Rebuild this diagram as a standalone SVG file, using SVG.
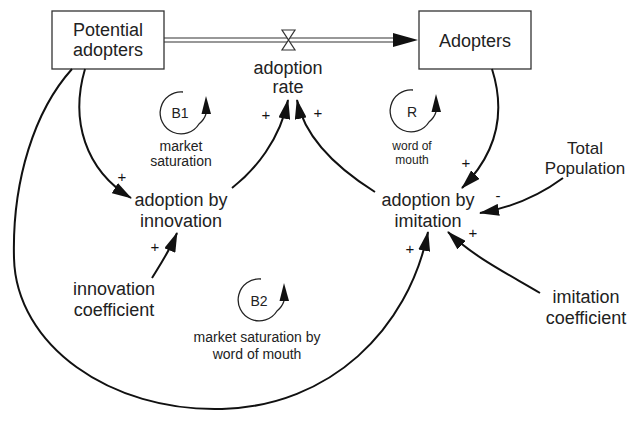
<svg xmlns="http://www.w3.org/2000/svg" width="631" height="421" viewBox="0 0 631 421">
  <style>
    .box { fill: #ffffff; stroke: #333333; stroke-width: 1.3; }
    .lbl { font-family: "Liberation Sans", Arial, sans-serif; font-size: 18px; fill: #222222; text-anchor: middle; }
    .small { font-family: "Liberation Sans", Arial, sans-serif; font-size: 14px; fill: #222222; text-anchor: middle; }
    .pol { font-family: "Liberation Sans", Arial, sans-serif; font-size: 15px; fill: #111111; text-anchor: middle; }
    .link { fill: none; stroke: #111111; stroke-width: 2; marker-end: url(#head); }
    .pipe { fill: none; stroke: #333333; stroke-width: 1.2; }
    .loop { fill: none; stroke: #222222; stroke-width: 1.3; }
  </style>
  <defs>
    <marker id="head" markerUnits="userSpaceOnUse" viewBox="0 0 20 12" refX="19" refY="6" markerWidth="20" markerHeight="12" orient="auto">
      <path d="M0,0 L20,6 L0,12 Z" fill="#111111"/>
    </marker>
    <!-- loop symbol: open circle with an upward arrow on its right side -->
    <g id="loopmark">
      <path class="loop" d="M2,-21 A21,21 0 1 0 18,11 Q23,7 25,1"/>
      <path d="M25,-17 L20.5,1 L30,1 Z" fill="#111111"/>
    </g>
  </defs>

  <!-- stocks -->
  <g id="potential-adopters">
    <rect class="box" x="52" y="11" width="112" height="58"/>
    <text class="lbl" x="108" y="36">Potential</text>
    <text class="lbl" x="108" y="56">adopters</text>
  </g>
  <g id="adopters">
    <rect class="box" x="419" y="11" width="112" height="58"/>
    <text class="lbl" x="475" y="47">Adopters</text>
  </g>

  <!-- flow with valve -->
  <g id="adoption-rate">
    <line class="pipe" x1="164" y1="38" x2="400" y2="38"/>
    <line class="pipe" x1="164" y1="42" x2="400" y2="42"/>
    <path d="M393,33 L418,40 L393,47 Z" fill="#111111"/>
    <path d="M282,30 L295,30 L282,50 L295,50 Z" fill="#ffffff" stroke="#333333" stroke-width="1.2"/>
    <text class="lbl" x="288" y="74">adoption</text>
    <text class="lbl" x="288" y="93">rate</text>
  </g>

  <!-- auxiliaries -->
  <g id="adoption-by-innovation">
    <text class="lbl" x="181" y="206">adoption by</text>
    <text class="lbl" x="181" y="227">innovation</text>
  </g>
  <g id="adoption-by-imitation">
    <text class="lbl" x="428" y="206">adoption by</text>
    <text class="lbl" x="428" y="227">imitation</text>
  </g>
  <g id="total-population">
    <text class="lbl" x="585" y="154" style="font-size:17px">Total</text>
    <text class="lbl" x="585" y="174" style="font-size:17px">Population</text>
  </g>
  <g id="innovation-coefficient">
    <text class="lbl" x="114" y="295">innovation</text>
    <text class="lbl" x="114" y="316">coefficient</text>
  </g>
  <g id="imitation-coefficient">
    <text class="lbl" x="586" y="303">imitation</text>
    <text class="lbl" x="586" y="324">coefficient</text>
  </g>

  <!-- feedback loop markers -->
  <g id="loop-b1">
    <use href="#loopmark" x="181" y="113"/>
    <text class="small" x="180" y="118">B1</text>
    <text class="small" x="181" y="151">market</text>
    <text class="small" x="181" y="166">saturation</text>
  </g>
  <g id="loop-r">
    <use href="#loopmark" x="411" y="111"/>
    <text class="small" x="412" y="117">R</text>
    <text class="small" x="412" y="150" style="font-size:12px">word of</text>
    <text class="small" x="412" y="164" style="font-size:12px">mouth</text>
  </g>
  <g id="loop-b2">
    <use href="#loopmark" x="259" y="300"/>
    <text class="small" x="259" y="306">B2</text>
    <text class="small" x="257" y="342">market saturation by</text>
    <text class="small" x="257" y="359">word of mouth</text>
  </g>

  <!-- causal links -->
  <g id="links">
    <path class="link" d="M85,69 C70,120 85,170 131,198"/>
    <path class="link" d="M72,69 C35,110 12,180 14,258 C16,345 110,412 222,409 C330,406 408,330 428,232"/>
    <path class="link" d="M232,188 C255,170 280,140 288,100"/>
    <path class="link" d="M375,192 C340,170 305,140 297,100"/>
    <path class="link" d="M492,69 C505,110 500,150 462,188"/>
    <path class="link" d="M563,178 C540,195 515,207 480,213"/>
    <path class="link" d="M540,293 C510,275 475,258 448,232"/>
    <path class="link" d="M152,278 C160,265 170,250 177,233"/>
  </g>

  <!-- link polarities -->
  <g id="polarities" opacity="0.99">
    <text class="pol" x="122" y="182">+</text>
    <text class="pol" x="155" y="252">+</text>
    <text class="pol" x="266" y="120">+</text>
    <text class="pol" x="318" y="118">+</text>
    <text class="pol" x="466" y="168">+</text>
    <text class="pol" x="498" y="201">-</text>
    <text class="pol" x="473" y="238">+</text>
    <text class="pol" x="410" y="254">+</text>
  </g>
</svg>
